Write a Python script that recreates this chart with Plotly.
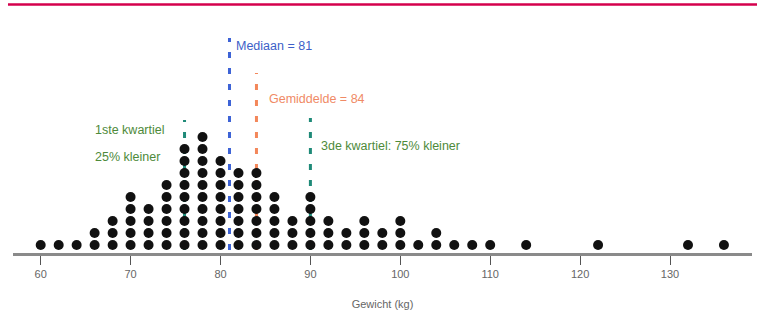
import plotly.graph_objects as go

# Data: weight (kg) and number of people at each weight
weights = [60, 62, 64, 66, 68, 70, 72, 74, 76, 78, 80, 82, 84, 86, 88, 90, 92, 94, 96, 98,
           100, 102, 104, 106, 108, 110, 114, 122, 132, 136]
counts = [1, 1, 1, 2, 3, 5, 4, 6, 9, 10, 8, 7, 7, 5, 3, 5, 3, 2, 3, 2,
          3, 1, 2, 1, 1, 1, 1, 1, 1, 1]

tick_vals = [60, 70, 80, 90, 100, 110, 120, 130]

q1, median, mean, q3 = 76, 81, 84, 90
stat_values = [q1, median, mean, q3]
stat_tops = [10.42, 17.25, 14.33, 10.58]
stat_colors = ["#1f8a78", "#3d63d6", "#f3875a", "#1f8a78"]

# expand dot plot
xs, ys = [], []
for w, c in zip(weights, counts):
    for k in range(c):
        xs.append(w)
        ys.append(k)

fig = go.Figure()

for v, top, col in zip(stat_values, stat_tops, stat_colors):
    fig.add_trace(go.Scatter(
        x=[v, v], y=[-0.42, top], mode="lines",
        line=dict(color=col, width=3, dash="6px,10px"),
        hoverinfo="skip", showlegend=False))

fig.add_trace(go.Scatter(
    x=xs, y=ys, mode="markers",
    marker=dict(color="#111111", size=10, line=dict(width=0)),
    showlegend=False))

font = "Liberation Sans, Arial, sans-serif"
ann = [
    dict(x=81.5, y=16.58, text="Mediaan = 81", color="#3d5fc8"),
    dict(x=85.2, y=12.17, text="Gemiddelde = 84", color="#f08a66"),
    dict(x=91.0, y=8.25, text="3de kwartiel: 75% kleiner", color="#4e8a3a"),
    dict(x=65.85, y=9.58, text="1ste kwartiel", color="#4e8a3a"),
    dict(x=65.85, y=7.33, text="25% kleiner", color="#4e8a3a"),
]
for a in ann:
    fig.add_annotation(x=a["x"], y=a["y"], text=a["text"], showarrow=False,
                       xanchor="left", yanchor="middle",
                       font=dict(family=font, size=12.5, color=a["color"]))

# top red rule
fig.add_shape(type="line", xref="paper", yref="paper",
              x0=-0.0068, x1=1.0068, y0=0.982, y1=0.982,
              line=dict(color="#d4004c", width=2.5))

fig.update_layout(
    width=757, height=331,
    margin=dict(l=13, r=5, t=0, b=78),
    paper_bgcolor="white", plot_bgcolor="white",
    xaxis=dict(range=[56.92, 139.12], tickvals=tick_vals, ticks="outside",
               ticklen=9, tickwidth=1, tickcolor="#555555",
               showline=True, linecolor="#8a8a8a", linewidth=3,
               showgrid=False, zeroline=False,
               tickfont=dict(family=font, size=11, color="#666666"),
               title=dict(text="Gewicht (kg)", standoff=22,
                          font=dict(family=font, size=11, color="#666666"))),
    yaxis=dict(range=[-0.667, 20.42], visible=False, showgrid=False, zeroline=False),
)

fig.write_html("out.html", config={"displayModeBar": False},
               post_script="document.body.style.margin='0';document.body.style.overflow='hidden';")
